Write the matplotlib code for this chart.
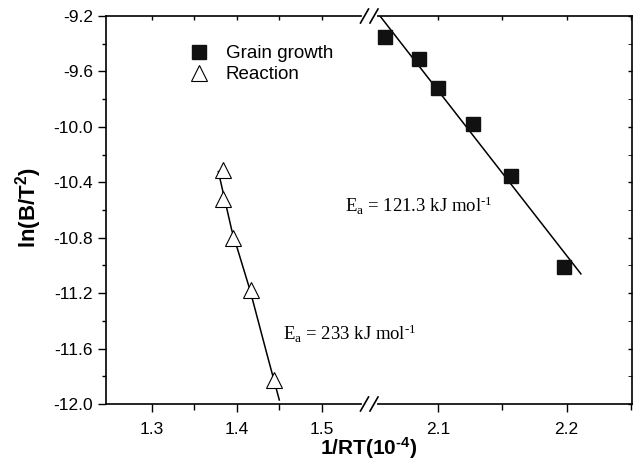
import matplotlib
matplotlib.use("Agg")
import matplotlib.pyplot as plt
from matplotlib.lines import Line2D
from matplotlib.ticker import FixedLocator, MultipleLocator, FormatStrFormatter

plt.rcParams["font.family"] = ["Liberation Sans", "DejaVu Sans"]
plt.rcParams["mathtext.default"] = "regular"
plt.rcParams["axes.unicode_minus"] = False

# grain growth (right part of the broken axis)
grain_x = [2.0585, 2.085, 2.100, 2.1267, 2.1566, 2.1979]
grain_y = [-9.35, -9.51, -9.72, -9.98, -10.355, -11.01]
grain_fit_x = [2.0546, 2.2111]
grain_fit_y = [-9.2, -11.061]

# reaction (left part)
react_x = [1.3843, 1.3843, 1.396, 1.4168, 1.4439]
react_y = [-10.311, -10.523, -10.804, -11.177, -11.826]
react_fit_x = [1.3784, 1.3941, 1.4156, 1.4353, 1.4501]
react_fit_y = [-10.323, -10.744, -11.177, -11.634, -11.971]

y_ticks = [-12.0, -11.6, -11.2, -10.8, -10.4, -10.0, -9.6, -9.2]
left_xticks = [1.3, 1.4, 1.5]
right_xticks = [2.1, 2.2]

W, H = 634, 471
fig = plt.figure(figsize=(W / 100, H / 100), dpi=100)

x0, xb, x1 = 106, 371, 632   # pixel positions: left spine, break, right spine
ytop, ybot = 16, 404
bottom = 1 - ybot / H
height = (ybot - ytop) / H
axL = fig.add_axes([x0 / W, bottom, (xb - x0) / W, height])
axR = fig.add_axes([xb / W, bottom, (x1 - xb) / W, height], sharey=axL)
axR.patch.set_visible(False)

for ax in (axL, axR):
    ax.set_ylim(-12.0, -9.2)
    for s in ax.spines.values():
        s.set_linewidth(1.2)
    ax.tick_params(labelsize=12.5, width=1.0)

axL.set_xlim(1.2462, 1.558)
axR.set_xlim(2.0476, 2.2509)
axL.spines["right"].set_visible(False)
axR.spines["left"].set_visible(False)

axL.yaxis.set_major_locator(FixedLocator(y_ticks))
axL.yaxis.set_minor_locator(MultipleLocator(0.2))
axL.yaxis.set_major_formatter(FormatStrFormatter("%.1f"))
axL.xaxis.set_major_locator(FixedLocator(left_xticks))
axL.xaxis.set_minor_locator(FixedLocator([1.35, 1.45]))
axL.xaxis.set_major_formatter(FormatStrFormatter("%.1f"))
axR.xaxis.set_major_locator(FixedLocator(right_xticks))
axR.xaxis.set_minor_locator(FixedLocator([2.15, 2.25]))
axR.xaxis.set_major_formatter(FormatStrFormatter("%.1f"))

axL.tick_params(axis="y", which="major", direction="out", length=6)
axL.tick_params(axis="y", which="minor", direction="out", length=3, width=1.0)
axR.tick_params(axis="y", which="both", left=False, labelleft=False,
                right=True, direction="in", length=3)
for ax in (axL, axR):
    ax.tick_params(axis="x", which="major", direction="out", length=6, pad=7)
    ax.tick_params(axis="x", which="minor", direction="out", length=4, width=1.0)
    ax.tick_params(axis="x", which="both", top=True)
    # short inward ticks on the top spine
    for t in ax.xaxis.get_major_ticks() + ax.xaxis.get_minor_ticks():
        t.tick2line.set_markersize(3)
        t.tick2line.set_marker(3)

axR.plot(grain_fit_x, grain_fit_y, color="black", lw=1.1, zorder=2)
axR.plot(grain_x, grain_y, ls="none", marker="s", ms=10, color="#111111",
         mec="#111111", zorder=3, label="Grain growth")
axL.plot(react_fit_x, react_fit_y, color="black", lw=1.1, zorder=2)
axL.plot(react_x, react_y, ls="none", marker="^", ms=11, mfc="white",
         mec="black", mew=0.8, zorder=3, label="Reaction")

handles = [axR.get_lines()[1], axL.get_lines()[1]]
axL.legend(handles, ["Grain growth", "Reaction"], loc="upper left",
           bbox_to_anchor=(0.317, 0.925), frameon=False, fontsize=13.5,
           handlelength=1.0, handletextpad=0.9, labelspacing=0.2,
           borderaxespad=0, borderpad=0)

axL.text(1.5274, -10.614, "E$_{a}$ = 121.3 kJ mol$^{\u20101}$",
         family="Liberation Serif", fontsize=13.5, va="baseline",
         clip_on=False, zorder=5)
axL.text(1.4545, -11.538, "E$_{a}$ = 233 kJ mol$^{\u20101}$",
         family="Liberation Serif", fontsize=13.5, va="baseline",
         clip_on=False, zorder=5)

fig.text(29 / W, 1 - 208 / H, "ln(B/T$^{2}$)", rotation=90, ha="center",
         va="center", fontsize=16, fontweight="bold")
fig.text(369 / W, 1 - 448 / H, "1/RT(10$^{\u20104}$)", ha="center", va="center",
         fontsize=15, fontweight="bold")

# break marks on top and bottom spines
def px(x, y):
    return x / W, 1 - y / H

for yc in (ytop, ybot):
    fig.add_artist(Line2D(*zip(px(364, yc), px(375, yc)), color="white",
                          lw=3, transform=fig.transFigure, zorder=10))
    for xc in (364.5, 374):
        fig.add_artist(Line2D(*zip(px(xc - 4, yc + 7), px(xc + 4, yc - 7)),
                              color="black", lw=1.2,
                              transform=fig.transFigure, zorder=11))

fig.savefig("out.png", dpi=100)
